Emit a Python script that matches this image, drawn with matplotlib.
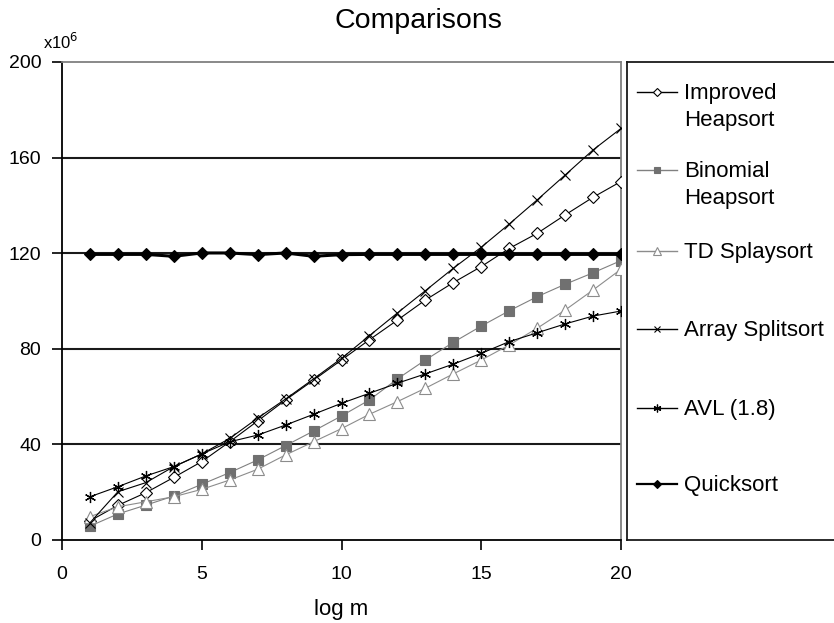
import matplotlib
matplotlib.use("Agg")
import matplotlib.pyplot as plt
import matplotlib.transforms as mtransforms

plt.rcParams['font.family'] = ['Liberation Sans', 'DejaVu Sans']

x = list(range(1, 21))

improved_heapsort = [8, 14.5, 19.8, 26.2, 32.8, 41.1, 49.8, 58.6, 66.9, 75.3,
                     83.8, 92.0, 100.4, 107.7, 114.4, 122.0, 128.3, 136.0, 143.4, 150.0]
binomial_heapsort = [5.8, 10.9, 14.6, 18.4, 23.3, 28.2, 33.5, 39.5, 45.6, 51.9,
                     58.6, 67.4, 75.3, 82.7, 89.5, 95.9, 101.8, 107.0, 111.8, 116.9]
td_splaysort = [9.8, 13.9, 16.0, 18.1, 21.2, 25.1, 29.6, 35.6, 41.1, 46.6,
                52.6, 57.9, 63.5, 69.5, 75.3, 81.6, 88.6, 96.2, 104.6, 113.3]
array_splitsort = [7.2, 20.2, 24.0, 30.7, 36.0, 42.5, 51.0, 59.0, 67.4, 76.0,
                   85.5, 95.0, 104.3, 113.7, 122.5, 132.2, 142.3, 152.7, 163.2, 172.2]
avl = [18.1, 22.3, 26.8, 30.7, 36.0, 41.1, 43.9, 48.1, 52.6, 57.2,
       61.4, 65.6, 69.5, 73.6, 78.1, 83.0, 86.7, 90.4, 93.7, 95.8]
quicksort = [119.5, 119.5, 119.5, 118.7, 120.1, 120.1, 119.4, 120.1, 118.7, 119.4,
             119.5, 119.5, 119.5, 119.5, 119.5, 119.5, 119.5, 119.5, 119.5, 119.5]

labels = ["Improved\nHeapsort", "Binomial\nHeapsort", "TD Splaysort",
          "Array Splitsort", "AVL (1.8)", "Quicksort"]
series = [improved_heapsort, binomial_heapsort, td_splaysort,
          array_splitsort, avl, quicksort]

x_ticks = [0, 5, 10, 15, 20]
y_ticks = [0, 40, 80, 120, 160, 200]

styles = [
    dict(color='black', lw=0.8, marker='D', ms=6, mfc='white', mec='black', mew=0.8),
    dict(color='#808080', lw=0.8, marker='s', ms=7, mfc='#707070', mec='#707070', mew=0.8),
    dict(color='#8c8c8c', lw=0.8, marker='^', ms=8, mfc='white', mec='#8c8c8c', mew=0.8),
    dict(color='black', lw=0.8, marker='x', ms=7, mfc='none', mec='black', mew=0.8),
    dict(color='black', lw=0.8, marker=(6, 2, 0), ms=8, mfc='none', mec='black', mew=0.9),
    dict(color='black', lw=2.2, marker='D', ms=6, mfc='black', mec='black', mew=0.8),
]

fig = plt.figure(figsize=(8.34, 6.23), dpi=100)
ax = fig.add_axes([62/834, 1-540/623, (621-62)/834, (540-62)/623])

for ys, st in zip(series, styles):
    ax.plot(x, ys, **st, zorder=3)

ax.set_xlim(0, 20)
ax.set_ylim(0, 200)
ax.set_xticks(x_ticks)
ax.set_yticks(y_ticks)
ax.tick_params(axis='both', labelsize=14, direction='out', length=7, width=1.2, color='black')
ax.tick_params(axis='x', pad=12)
ax.tick_params(axis='y', pad=8)
for yv in y_ticks[1:-1]:
    ax.axhline(yv, color='#1a1a1a', lw=1.5, zorder=1)
ax.spines['left'].set_color('black')
ax.spines['left'].set_linewidth(1.3)
ax.spines['bottom'].set_color('black')
ax.spines['bottom'].set_linewidth(1.3)
ax.spines['top'].set_color('#808080')
ax.spines['right'].set_color('#808080')
ax.spines['top'].set_linewidth(1.3)
ax.spines['right'].set_linewidth(1.3)
ax.set_xlabel("log m", fontsize=16, labelpad=11)

fig.text(418/834, 1-21/623, "Comparisons", fontsize=20.5, ha='center', va='center')
fig.text(43/834, 1-42/623, r"x10$^6$", fontsize=12, ha='left', va='center')

# legend box
lax = fig.add_axes([627/834, 1-540/623, 1.01-627/834, (540-62)/623])
lax.set_xlim(0, 1)
lax.set_ylim(0, 1)
lax.set_xticks([])
lax.set_yticks([])
for sp in lax.spines.values():
    sp.set_color('#1a1a1a')
    sp.set_linewidth(1.3)

box_w_px = 834*(1.01-627/834)
box_h_px = 540-62
first_line_px = [92, 170, 251, 329, 408, 484]
text_offset = mtransforms.ScaledTranslation(0, 9/100, fig.dpi_scale_trans)
for i, (lab, st) in enumerate(zip(labels, styles)):
    yy = 1 - (first_line_px[i]-62)/box_h_px
    x0 = 10/box_w_px
    x1 = 50/box_w_px
    lst = dict(st)
    lst['ms'] = st['ms']*0.7
    lst['lw'] = 1.0 if st['lw'] < 1.5 else 1.6
    lax.plot([x0, x1], [yy, yy], color=lst['color'], lw=lst['lw'], clip_on=False)
    lax.plot([(x0+x1)/2], [yy], linestyle='none',
             **{k: v for k, v in lst.items() if k not in ('lw', 'color')}, clip_on=False)
    lax.text(57/box_w_px, yy, lab, fontsize=16, ha='left', va='top',
             transform=lax.transAxes + text_offset, linespacing=1.4)

fig.savefig("out.png", dpi=100)
